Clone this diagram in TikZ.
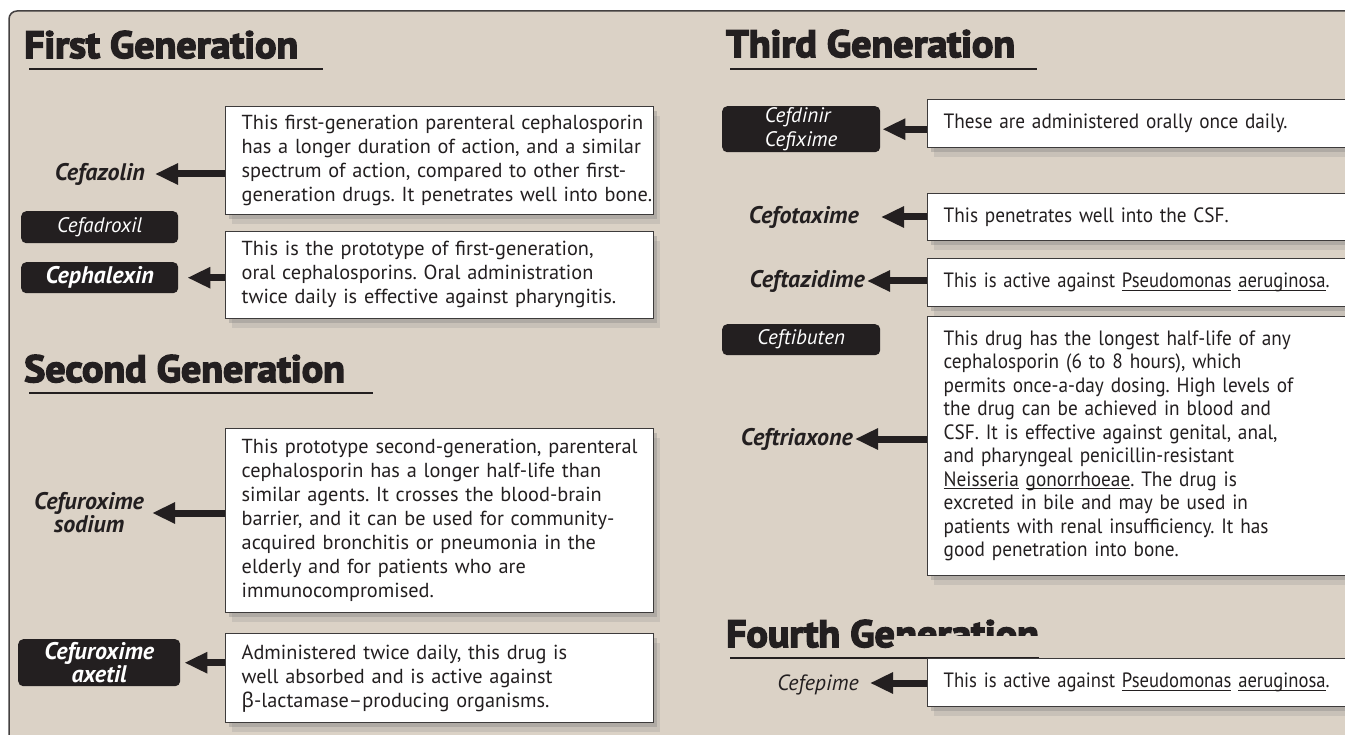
\documentclass[tikz,border=0pt]{standalone}
\usepackage{fontspec}
\setmainfont{PT Sans}
\newfontfamily\headfont[FakeStretch=1.05,BoldFeatures={FakeBold=4}]{PT Sans}
\newfontfamily\thirdfont[FakeStretch=0.93]{PT Sans}
\newfontfamily\narrowfont[FakeStretch=0.9]{PT Sans}
\newfontfamily\greekfont{Noto Sans}
\usetikzlibrary{arrows.meta,positioning,shadows}
\definecolor{panelbg}{HTML}{DBD2C6}
\definecolor{ink}{HTML}{231F20}
\definecolor{boxline}{HTML}{3D3B3B}
\newcommand{\blurb}[1]{\begin{tabular}{@{}l@{}}#1\end{tabular}}
\newcommand{\taxon}[1]{\setbox0\hbox{#1}\rlap{\rule[-3pt]{\wd0}{0.9pt}}\box0\relax}
\frenchspacing

\begin{document}
\begin{tikzpicture}[x=1pt,y=-1pt,
  infobox/.style={draw=boxline,line width=1.4pt,fill=white,anchor=north west,
    inner xsep=16pt,inner ysep=0pt,align=left,text=ink,font=\fontsize{20.3}{24}\selectfont,
    drop shadow={shadow xshift=3pt,shadow yshift=-4pt,opacity=.35},
    drop shadow={shadow xshift=6pt,shadow yshift=-9pt,opacity=.2}},
  pill/.style={fill=ink,rounded corners=5pt,text=white,anchor=north west,inner sep=0pt,
    align=center,font=\fontsize{21}{24}\selectfont\itshape},
  druglab/.style={text=ink,inner sep=0pt,font=\fontsize{24}{18}\selectfont\bfseries\itshape},
  pointer/.style={draw=ink,line width=7pt,-{Triangle[length=23pt,width=20pt]}},
  headline/.style={anchor=base west,inner sep=0pt,text=ink,font=\headfont\fontsize{38}{40}\selectfont\bfseries},
  headrule/.style={draw=ink,line width=2.5pt}]
\useasboundingbox (0,0) rectangle (1345,735);
\clip (0,0) rectangle (1345,735);
\draw[draw=ink!85,line width=1.5pt,fill=panelbg,rounded corners=8pt] (9,11) rectangle (1420,800);

% first generation
\node[headline] (g1) at (24,58) {First Generation};
\draw[headrule] (29,69) -- (323,69);
\node[druglab,anchor=east] (c1) at (145,174) {Cefazolin};
\node[pill,minimum width=157pt,minimum height=32pt] (c2) at (21,211) {Cefadroxil};
\node[pill,minimum width=157pt,minimum height=31pt,font=\fontsize{24}{24}\selectfont\bfseries\itshape] (c3) at (21,262) {Cephalexin};
\node[infobox,text width=396pt,minimum height=108pt] (d1) at (225,106) {\blurb{This first-generation parenteral cephalosporin\\
has a longer duration of action, and a similar\\
spectrum of action, compared to other first-\\
generation drugs. It penetrates well into bone.}};
\node[infobox,text width=396pt,minimum height=87pt] (d2) at (225,231) {\blurb{This is the prototype of first-generation,\\
oral cephalosporins. Oral administration\\
twice daily is effective against pharyngitis.}};
\draw[pointer,shorten >=10pt] (c1.east -| d1.west) -- (c1.east);
\draw[pointer,shorten >=9pt] (c3.east -| d2.west) -- (c3.east);

% second generation
\node[headline] (g2) at (24,382) {Second Generation};
\draw[headrule] (29,393) -- (373,393);
\node[druglab,align=center] (c4) at (89,513) {Cefuroxime\\sodium};
\node[pill,minimum width=162pt,minimum height=47pt,font=\fontsize{24}{18}\selectfont\bfseries\itshape] (c5) at (18,639) {Cefuroxime\\axetil};
\node[infobox,text width=396pt,minimum height=184pt] (d3) at (225,428) {\blurb{This prototype second-generation, parenteral\\
cephalosporin has a longer half-life than\\
similar agents. It crosses the blood-brain\\
barrier, and it can be used for community-\\
acquired bronchitis or pneumonia in the\\
elderly and for patients who are\\
immunocompromised.}};
\node[infobox,text width=396pt,minimum height=89pt] (d4) at (225,633) {\blurb{Administered twice daily, this drug is\\
well absorbed and is active against\\
{\greekfont β}-lactamase–producing organisms.}};
\draw[pointer,shorten >=8pt] (c4.east -| d3.west) -- (c4.east);
\draw[pointer,shorten >=4pt] (c5.east -| d4.west) -- (c5.east);

% third generation
\node[headline] (g3) at (726,57) {Third Generation};
\draw[headrule] (730,69) -- (1037,69);
\node[pill,minimum width=158pt,minimum height=46pt,align=left] (c6) at (722,106) {Cefdinir\\Cefixime};
\node[druglab,anchor=east] (c7) at (859,217) {Cefotaxime};
\node[druglab,anchor=east] (c8) at (865,281) {Ceftazidime};
\node[pill,minimum width=158pt,minimum height=31pt] (c9) at (722,324) {Ceftibuten};
\node[druglab,anchor=east] (c10) at (853,439) {Ceftriaxone};
\node[infobox,text width=471pt,minimum height=48pt] (d5) at (927,99) {\thirdfont\fontsize{20.7}{24}\selectfont These are administered orally once daily.};
\node[infobox,text width=471pt,minimum height=47pt] (d6) at (927,193) {\thirdfont\fontsize{20.7}{24}\selectfont This penetrates well into the CSF.};
\node[infobox,text width=471pt,minimum height=48pt] (d7) at (927,258) {\narrowfont\fontsize{20.7}{24}\selectfont This is active against \taxon{Pseudomonas} \taxon{aeruginosa}.};
\node[infobox,text width=471pt,minimum height=259pt,font=\thirdfont\fontsize{20.7}{23.5}\selectfont] (d8) at (927,316) {\blurb{This drug has the longest half-life of any\\
cephalosporin (6 to 8 hours), which\\
permits once-a-day dosing. High levels of\\
the drug can be achieved in blood and\\
CSF. It is effective against genital, anal,\\
and pharyngeal penicillin-resistant\\
\taxon{Neisseria} \taxon{gonorrhoeae}. The drug is\\
excreted in bile and may be used in\\
patients with renal insufficiency. It has\\
good penetration into bone.}};
\draw[pointer,shorten >=2pt] (c6.east -| d5.west) -- (c6.east);
\draw[pointer,shorten >=22pt] (c7.east -| d6.west) -- (c7.east);
\draw[pointer,shorten >=2pt] (c8.east -| d7.west) -- (c8.east);
\draw[pointer,shorten >=2pt] (c10.east -| d8.west) -- (c10.east);

% fourth generation, heading partly hidden after "Ge"
\node[headline] (g4) at (726,647) {Fourth Ge};
\coordinate (cut) at (0,635);
\begin{scope}
\clip (g4.east |- cut) rectangle (1100,600);
\node[headline] (g4b) at (g4.base east) {neration};
\end{scope}
\draw[headrule] (730,658) -- (1039,658);
\node[druglab,anchor=east,text depth=0pt,font=\fontsize{22}{24}\selectfont\itshape] (c11) at (859,683) {Cefepime};
\node[infobox,text width=471pt,minimum height=48pt] (d9) at (927,658) {\narrowfont\fontsize{20.7}{24}\selectfont This is active against \taxon{Pseudomonas} \taxon{aeruginosa}.};
\draw[pointer,shorten >=11pt] (c11.east -| d9.west) -- (c11.east);
\end{tikzpicture}
\end{document}
